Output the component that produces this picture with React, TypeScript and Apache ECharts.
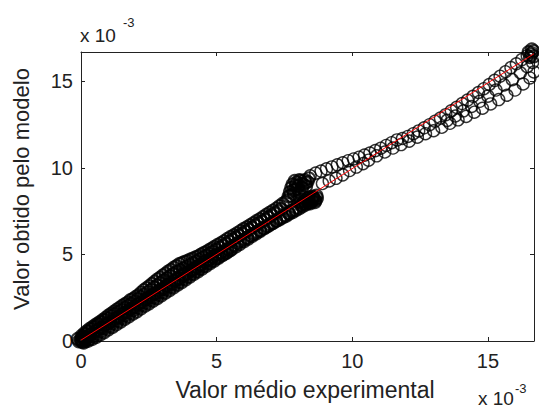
import React, { useEffect, useRef } from "react";
import * as echarts from "echarts";

// All values in units of 1e-3
const xTicks = [0, 5, 10, 15];
const yTicks = [0, 5, 10, 15];
const axisMax = 16.7;

const originBlob: [number, number][] = [
  [0.0, 0.0], [0.05, -0.05], [-0.12, 0.12], [0.08, 0.25], [0.15, 0.05], [-0.08, -0.02],
];

const bandMid: [number, number][] = [
  [0.0, 0.08], [0.06, 0.02], [0.13, 0.15], [0.21, 0.18], [0.29, 0.31], [0.36, 0.4], [0.45, 0.44],
  [0.54, 0.57], [0.62, 0.63], [0.71, 0.74], [0.8, 0.78], [0.89, 0.93], [0.98, 1.0], [1.07, 1.1],
  [1.16, 1.14], [1.25, 1.29], [1.34, 1.36], [1.43, 1.41], [1.52, 1.56], [1.61, 1.63], [1.7, 1.69],
  [1.8, 1.84], [1.89, 1.9], [1.98, 1.97], [2.07, 2.11], [2.16, 2.18], [2.25, 2.24], [2.34, 2.39],
  [2.43, 2.45], [2.52, 2.51], [2.61, 2.66], [2.7, 2.72], [2.8, 2.79], [2.89, 2.93], [2.98, 3.0],
  [3.07, 3.05], [3.16, 3.2], [3.25, 3.27], [3.35, 3.33], [3.44, 3.47], [3.53, 3.55], [3.62, 3.6],
  [3.72, 3.74], [3.81, 3.82], [3.9, 3.88], [4.0, 4.03], [4.09, 4.1], [4.18, 4.15], [4.28, 4.3],
  [4.37, 4.38], [4.46, 4.43], [4.56, 4.58], [4.65, 4.66], [4.75, 4.71], [4.84, 4.86], [4.94, 4.93],
  [5.05, 5.01], [5.16, 5.1], [5.28, 5.21], [5.4, 5.31], [5.52, 5.44], [5.64, 5.53], [5.76, 5.66],
  [5.88, 5.75], [6.0, 5.88], [6.12, 5.97], [6.24, 6.1], [6.36, 6.19], [6.48, 6.31], [6.6, 6.4],
  [6.72, 6.52], [6.84, 6.61], [6.96, 6.73], [7.08, 6.82], [7.2, 6.94], [7.32, 7.03], [7.44, 7.14],
  [7.56, 7.23], [7.68, 7.35], [7.8, 7.44], [7.92, 7.56], [8.04, 7.66], [8.16, 7.78], [8.28, 7.88],
  [8.4, 7.99], [8.52, 8.1], [8.62, 8.18], [8.7, 8.26],
];

const bandQuarter: [number, number][] = [
  [0.05, 0.22], [0.17, 0.4], [0.29, 0.55], [0.41, 0.68], [0.53, 0.8], [0.65, 0.95], [0.77, 1.06],
  [0.89, 1.2], [1.01, 1.3], [1.13, 1.44], [1.25, 1.56], [1.37, 1.68], [1.49, 1.79], [1.61, 1.92],
  [1.73, 2.04], [1.85, 2.16], [1.97, 2.28], [2.09, 2.42], [2.21, 2.55], [2.33, 2.68], [2.45, 2.82],
  [2.57, 2.95], [2.69, 3.1], [2.81, 3.22], [2.93, 3.36], [3.05, 3.5], [3.17, 3.62], [3.29, 3.76],
  [3.41, 3.88], [3.53, 4.0], [3.65, 4.1], [3.77, 4.2], [3.89, 4.3], [4.01, 4.4], [4.13, 4.5],
  [4.25, 4.6], [4.37, 4.7], [4.49, 4.82], [4.61, 4.92], [4.73, 5.04], [4.85, 5.16], [4.97, 5.27],
  [5.1, 5.4], [5.22, 5.5], [5.34, 5.62], [5.46, 5.74], [5.58, 5.86], [5.7, 5.98], [5.82, 6.1],
  [5.94, 6.2], [6.06, 6.32], [6.18, 6.44], [6.3, 6.56], [6.42, 6.68], [6.54, 6.8], [6.66, 6.9],
  [6.78, 7.02], [6.9, 7.14], [7.02, 7.26], [7.14, 7.38], [7.26, 7.5], [7.38, 7.62],
];

const bandLow2: [number, number][] = [
  [0.15, 0.0], [0.3, 0.12], [0.45, 0.28], [0.6, 0.42], [0.75, 0.56], [0.9, 0.72], [1.05, 0.86],
  [1.2, 1.02], [1.35, 1.16], [1.5, 1.32], [1.65, 1.48], [1.8, 1.62], [1.95, 1.78], [2.1, 1.92],
  [2.25, 2.08], [2.4, 2.22], [2.55, 2.38], [2.7, 2.52], [2.85, 2.68], [3.0, 2.82], [3.15, 2.98],
  [3.3, 3.12], [3.45, 3.28], [3.6, 3.42], [3.75, 3.58], [3.9, 3.72], [4.05, 3.88], [4.2, 4.02],
  [4.35, 4.18], [4.5, 4.32], [4.65, 4.48], [4.8, 4.62], [4.95, 4.76], [5.1, 4.88], [5.25, 5.02],
  [5.4, 5.14], [5.55, 5.3], [5.7, 5.45], [5.85, 5.6], [6.0, 5.75], [6.15, 5.9], [6.3, 6.05],
  [6.45, 6.2], [6.6, 6.35], [6.75, 6.5], [6.9, 6.65], [7.05, 6.8], [7.2, 6.95], [7.35, 7.1],
  [7.5, 7.25], [7.65, 7.4], [7.8, 7.55], [7.95, 7.7], [8.1, 7.85], [8.25, 8.0], [8.4, 8.15],
  [8.55, 8.3], [8.68, 8.4],
];

const lowerBlob: [number, number][] = [
  [8.25, 8.1], [8.35, 8.25], [8.45, 7.95], [8.55, 8.35], [8.62, 8.02], [8.4, 8.3],
  [8.2, 7.95], [8.1, 8.05], [8.5, 8.2], [8.65, 8.12], [8.3, 8.18], [8.48, 8.05],
  [8.58, 8.22], [8.15, 7.9], [8.38, 8.0],
];

const bandHigh: [number, number][] = [
  [0.02, 0.3], [0.12, 0.45], [0.22, 0.58], [0.32, 0.7], [0.42, 0.8], [0.52, 0.92], [0.62, 1.02],
  [0.72, 1.12], [0.82, 1.24], [0.92, 1.36], [1.02, 1.48], [1.12, 1.58], [1.22, 1.7], [1.32, 1.82],
  [1.42, 1.92], [1.52, 2.03], [1.62, 2.14], [1.72, 2.22], [1.82, 2.36], [1.92, 2.44], [2.02, 2.56],
  [2.12, 2.66], [2.22, 2.8], [2.32, 2.95], [2.42, 3.06], [2.52, 3.18], [2.62, 3.3], [2.72, 3.44],
  [2.82, 3.56], [2.92, 3.66], [3.02, 3.8], [3.12, 3.9], [3.22, 4.02], [3.32, 4.12], [3.42, 4.24],
  [3.52, 4.33], [3.62, 4.44], [3.72, 4.5], [3.82, 4.58], [3.92, 4.62], [4.02, 4.7], [4.12, 4.76],
  [4.22, 4.84], [4.32, 4.9], [4.42, 5.0], [4.52, 5.08], [4.62, 5.16], [4.72, 5.26], [4.82, 5.34],
  [4.92, 5.44], [5.04, 5.56], [5.16, 5.66], [5.28, 5.78], [5.4, 5.9], [5.52, 6.02], [5.64, 6.12],
  [5.76, 6.24], [5.88, 6.36], [6.0, 6.48], [6.12, 6.58], [6.24, 6.7], [6.36, 6.82], [6.48, 6.94],
  [6.6, 7.05], [6.72, 7.18], [6.84, 7.3], [6.96, 7.42], [7.08, 7.54], [7.2, 7.66], [7.32, 7.8],
  [7.44, 7.94],
];

const bandLow: [number, number][] = [
  [0.1, -0.1], [0.25, 0.0], [0.4, 0.1], [0.55, 0.22], [0.7, 0.36], [0.85, 0.5], [1.0, 0.66],
  [1.15, 0.8], [1.3, 0.95], [1.45, 1.1], [1.6, 1.26], [1.75, 1.4], [1.9, 1.56], [2.05, 1.7],
  [2.2, 1.86], [2.35, 2.02], [2.5, 2.16], [2.65, 2.32], [2.8, 2.46], [2.95, 2.62], [3.1, 2.78],
  [3.25, 2.92], [3.4, 3.08], [3.55, 3.24], [3.7, 3.38], [3.85, 3.54], [4.0, 3.7], [4.15, 3.86],
  [4.3, 4.0], [4.45, 4.16], [4.6, 4.32], [4.75, 4.48], [4.9, 4.62], [5.05, 4.78], [5.2, 4.94],
  [5.35, 5.08], [5.5, 5.24],
];

const upperBlob: [number, number][] = [
  [7.55, 8.05], [7.65, 8.35], [7.7, 8.6], [7.75, 8.85], [7.8, 9.05], [7.85, 8.5], [7.9, 8.75],
  [7.95, 9.15], [8.0, 8.95], [8.05, 8.6], [8.1, 9.25], [8.15, 8.85], [8.2, 9.05], [8.25, 9.3],
  [8.3, 8.95], [8.35, 9.2], [8.4, 9.4], [7.62, 8.15], [7.72, 8.4], [7.88, 9.25], [7.82, 8.7],
  [7.98, 8.8], [8.12, 9.1], [8.28, 9.15], [7.92, 9.0], [8.05, 9.3],
];

const branchUpper: [number, number][] = [
  [8.45, 9.55], [8.65, 9.7], [8.85, 9.82], [9.05, 9.95], [9.25, 10.06], [9.45, 10.18], [9.65, 10.3],
  [9.85, 10.42], [10.05, 10.52], [10.25, 10.62], [10.45, 10.74], [10.65, 10.86], [10.85, 11.0],
  [11.05, 11.14], [11.25, 11.3], [11.45, 11.46], [11.65, 11.62], [11.85, 11.7], [12.05, 11.82],
  [12.25, 11.98], [12.45, 12.14], [12.65, 12.32], [12.85, 12.5], [13.05, 12.7], [13.25, 12.88],
  [13.45, 13.08], [13.65, 13.3], [13.85, 13.5], [14.05, 13.72], [14.25, 13.92], [14.45, 14.14],
  [14.65, 14.36], [14.85, 14.58], [15.05, 14.82], [15.25, 15.06], [15.45, 15.3], [15.65, 15.56],
  [15.85, 15.8], [16.05, 16.02], [16.25, 16.26], [16.45, 16.48], [16.62, 16.66],
];

const branchNearLine: [number, number][] = [
  [8.9, 9.1], [9.15, 9.25], [9.4, 9.4], [9.65, 9.6], [9.9, 9.85], [10.15, 10.05], [10.4, 10.25],
];

const branchMiddle: [number, number][] = [
  [13.5, 12.75], [13.8, 13.0], [14.1, 13.3], [14.4, 13.55], [14.7, 13.85], [15.0, 14.15],
  [15.3, 14.5], [15.6, 14.8], [15.9, 15.1], [16.2, 15.5], [16.45, 15.85], [16.65, 16.1],
];

const branchLower: [number, number][] = [
  [10.6, 10.45], [10.9, 10.7], [11.2, 10.92], [11.5, 11.15], [11.8, 11.35], [12.1, 11.55],
  [12.4, 11.78], [12.7, 11.98], [13.0, 12.15], [13.3, 12.35], [13.6, 12.58], [13.9, 12.78],
  [14.2, 12.98], [14.5, 13.22], [14.8, 13.45], [15.1, 13.7], [15.4, 13.95], [15.7, 14.2],
  [16.0, 14.5], [16.3, 14.85], [16.55, 15.2], [16.7, 15.55],
];

const topCorner: [number, number][] = [
  [16.5, 16.7], [16.6, 16.55], [16.68, 16.75], [16.55, 16.4], [16.7, 16.45], [16.62, 16.85],
];

const fitLine: [number, number][] = [
  [0, 0.05],
  [16.7, 16.6],
];

const FONT = "'Liberation Sans', Arial, sans-serif";

export default function App() {
  const ref = useRef<HTMLDivElement>(null);
  useEffect(() => {
    if (!ref.current) return;
    const chart = echarts.init(ref.current, undefined, { renderer: "svg" });
    const densePoints = [
      ...originBlob, ...bandLow, ...bandLow2, ...bandMid, ...bandQuarter, ...bandHigh,
      ...lowerBlob, ...upperBlob, ...topCorner,
    ];
    const sparsePoints = [
      ...branchNearLine, ...branchUpper, ...branchMiddle, ...branchLower,
    ];
    const fmt = (v: number) => (xTicks.includes(v) || yTicks.includes(v) ? String(v) : "");
    const axisCommon = {
      type: "value" as const,
      min: 0,
      max: axisMax,
      interval: 5,
      axisLine: { show: true, onZero: false, lineStyle: { color: "#222", width: 1 } },
      axisTick: { show: true, inside: true, length: 4, lineStyle: { color: "#222" } },
      splitLine: { show: false },
    };
    const scatterBase = {
      type: "scatter" as const,
      xAxisIndex: 0,
      yAxisIndex: 0,
      clip: false,
      symbol: "circle",
      symbolSize: 12,
      z: 2,
    };
    chart.setOption({
      animation: false,
      backgroundColor: "#fff",
      grid: { left: 81, top: 52, width: 453, height: 289, containLabel: false },
      xAxis: [
        {
          ...axisCommon,
          position: "bottom",
          axisLabel: {
            show: true, margin: 10, fontSize: 20, color: "#222", fontFamily: FONT,
            showMaxLabel: false, formatter: fmt,
          },
        },
        { ...axisCommon, position: "top", axisLabel: { show: false } },
      ],
      yAxis: [
        {
          ...axisCommon,
          position: "left",
          axisLabel: {
            show: true, margin: 8, fontSize: 20, color: "#222", fontFamily: FONT,
            showMaxLabel: false, formatter: fmt,
          },
        },
        { ...axisCommon, position: "right", axisLabel: { show: false } },
      ],
      series: [
        {
          ...scatterBase,
          itemStyle: { color: "rgba(0,0,0,0)", borderColor: "#000", borderWidth: 2 },
          data: densePoints,
        },
        {
          ...scatterBase,
          itemStyle: { color: "rgba(0,0,0,0)", borderColor: "#000", borderWidth: 1.4 },
          data: sparsePoints,
        },
        {
          type: "line",
          xAxisIndex: 0,
          yAxisIndex: 0,
          data: fitLine,
          symbol: "none",
          lineStyle: { color: "#ff0000", width: 1 },
          z: 3,
        },
      ],
      graphic: [
        {
          type: "text", x: 305, y: 390,
          style: { text: "Valor médio experimental", font: `23px ${FONT}`, fill: "#222", align: "center", verticalAlign: "middle" },
        },
        {
          type: "text", x: 21, y: 189, rotation: Math.PI / 2,
          style: { text: "Valor obtido pelo modelo", font: `22px ${FONT}`, fill: "#222", align: "center", verticalAlign: "middle" },
        },
        {
          type: "text", x: 80, y: 35,
          style: { text: "x 10", font: `19px ${FONT}`, fill: "#222", align: "left", verticalAlign: "middle" },
        },
        {
          type: "text", x: 123, y: 22,
          style: { text: "-3", font: `13px ${FONT}`, fill: "#222", align: "left", verticalAlign: "middle" },
        },
        {
          type: "text", x: 478, y: 398,
          style: { text: "x 10", font: `19px ${FONT}`, fill: "#222", align: "left", verticalAlign: "middle" },
        },
        {
          type: "text", x: 515, y: 388,
          style: { text: "-3", font: `13px ${FONT}`, fill: "#222", align: "left", verticalAlign: "middle" },
        },
      ],
    });
    return () => chart.dispose();
  }, []);
  return (
    <div
      ref={ref}
      style={{ position: "fixed", left: 0, top: 0, width: 539, height: 412, background: "#fff" }}
    />
  );
}
